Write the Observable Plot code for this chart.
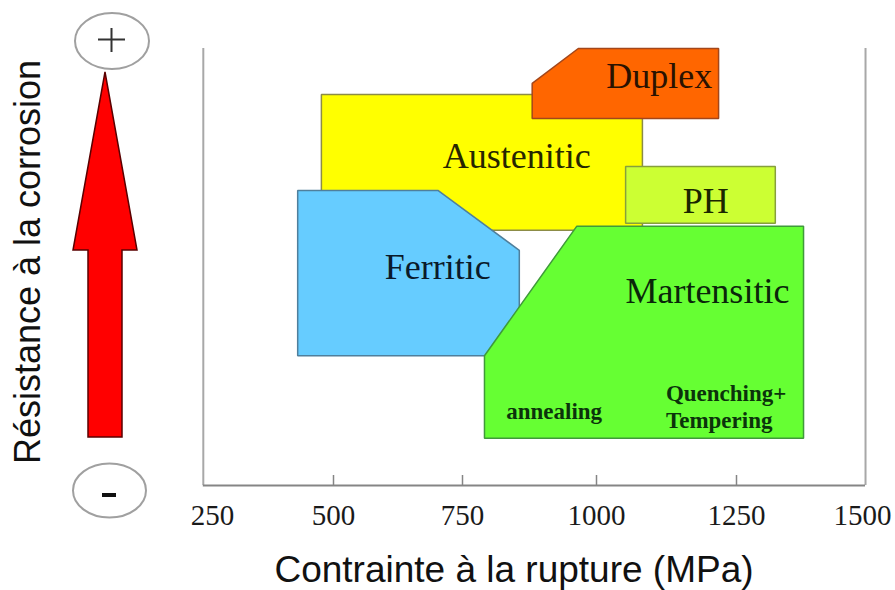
<!DOCTYPE html>
<html>
<head>
<meta charset="utf-8">
<script src="https://cdn.jsdelivr.net/npm/d3@7"></script>
<script src="https://cdn.jsdelivr.net/npm/@observablehq/plot@0.6"></script>
<style>
  html, body { margin: 0; padding: 0; background: #fff; }
  #chart { width: 895px; height: 590px; }
</style>
</head>
<body>
<div id="chart"></div>
<script>
// ---- data (x: tensile strength in MPa, y: relative corrosion resistance 0–100) ----
const xTicks = [250, 500, 750, 1000, 1250, 1500];
const innerTicks = [500, 750, 1000, 1250];
const xDomain = [231, 1506];
const yDomain = [0, 100];

const familyNames = ["Austenitic", "Duplex", "Ferritic", "PH", "Martensitic"];
const familyFill = ["#FFFF00", "#FF6600", "#66CCFF", "#CCFF33", "#66FF33"];
const familyStroke = ["#8c8c46", "#a3461a", "#4f7f9c", "#86a03c", "#3f9a3a"];

const austeniticX = [475, 1082, 1082, 475];
const austeniticY = [89.5, 89.5, 58.4, 58.4];
const duplexX = [966, 1218, 1218, 880, 880];
const duplexY = [100, 100, 84, 84, 92];
const ferriticX = [426, 703, 856, 856, 426];
const ferriticY = [67.5, 67.5, 53.8, 29.7, 29.7];
const phX = [1052, 1327, 1327, 1052];
const phY = [73, 73, 60, 60];
const martensiticX = [963, 1383, 1383, 791, 791];
const martensiticY = [59.3, 59.3, 10.8, 10.8, 29.7];

const labelNames = ["Duplex", "Austenitic", "PH", "Ferritic", "Martensitic"];
const labelX = [1112, 851, 1195, 702, 1198];
const labelY = [93.5, 75.4, 65.1, 50.0, 44.5];
const labelColor = ["#2a1200", "#262600", "#1a2600", "#0a1a2a", "#0a260a"];

const noteCenterText = ["annealing"];
const noteCenterX = [921];
const noteCenterY = [16.9];
const noteStartText = ["Quenching+", "Tempering"];
const noteStartX = [1124, 1124];
const noteStartY = [21.1, 14.9];

const xTitle = "Contrainte à la rupture (MPa)";
const yTitle = "Résistance à la corrosion";

// ---- build tables ----
const shapeXs = [austeniticX, duplexX, ferriticX, phX, martensiticX];
const shapeYs = [austeniticY, duplexY, ferriticY, phY, martensiticY];
const vertices = [];
familyNames.forEach((name, i) => {
  shapeXs[i].forEach((x, j) => vertices.push({
    family: name, x, y: shapeYs[i][j], fill: familyFill[i], stroke: familyStroke[i]
  }));
});
const labels = labelNames.map((t, i) => ({t, x: labelX[i], y: labelY[i], c: labelColor[i]}));
const notesC = noteCenterText.map((t, i) => ({t, x: noteCenterX[i], y: noteCenterY[i]}));
const notesS = noteStartText.map((t, i) => ({t, x: noteStartX[i], y: noteStartY[i]}));

const W = 895, H = 590, mL = 203, mR = 30, mT = 48, mB = 105;
// the printed axis is hand-spaced: a piecewise-linear scale follows its tick positions
const xScaleDomain = [250, 500, 750, 1000, 1250, 1500];
const xScaleRange = [212, 333, 462, 596, 736, 862];

const serif = "Liberation Serif, Times New Roman, serif";

const svg = Plot.plot({
  width: W, height: H,
  marginLeft: mL, marginRight: mR, marginTop: mT, marginBottom: mB,
  x: {type: "linear", domain: xScaleDomain, range: xScaleRange},
  y: {domain: yDomain, axis: null},
  color: {type: "identity"},
  style: {background: "white", overflow: "visible"},
  marks: [
    // frame: left & right verticals, bottom baseline
    Plot.ruleX(xDomain, {x: d => d, stroke: "#a8a8a8", strokeWidth: 2}),
    Plot.ruleY([yDomain[0]], {y: d => d, x1: xDomain[0], x2: xDomain[1], stroke: "#858585", strokeWidth: 2}),
    // inward ticks
    Plot.tickX(innerTicks, {x: d => d, insetTop: H - mT - mB - 10, stroke: "#858585", strokeWidth: 1.5}),
    // family regions
    Plot.line(vertices, {
      x: "x", y: "y", z: "family", fill: "fill", stroke: "stroke",
      strokeWidth: 1.5, curve: "linear-closed", strokeLinejoin: "miter"
    }),
    // family labels
    Plot.text(labels, {x: "x", y: "y", text: "t", fill: "c", fontSize: 36, fontFamily: serif}),
    Plot.text(notesC, {x: "x", y: "y", text: "t", fill: "#0b330b", fontSize: 23, fontWeight: "bold", fontFamily: serif}),
    Plot.text(notesS, {x: "x", y: "y", text: "t", fill: "#0b330b", fontSize: 23, fontWeight: "bold", textAnchor: "start", fontFamily: serif}),
    // x tick labels
    Plot.axisX(xTicks, {
      tickSize: 0, tickPadding: 19, fontSize: 29, fill: "#1a1a1a",
      fontFamily: serif, tickFormat: d => String(d), label: null
    })
  ]
});

const g = d3.select(svg).append("g");
// axis titles
g.append("text")
  .attr("x", 514).attr("y", 582)
  .attr("text-anchor", "middle")
  .attr("font-family", "Liberation Sans, Arial, sans-serif")
  .attr("font-size", 37).attr("fill", "#111")
  .text(xTitle);
g.append("text")
  .attr("transform", "translate(40,262) rotate(-90)")
  .attr("text-anchor", "middle")
  .attr("font-family", "Liberation Sans, Arial, sans-serif")
  .attr("font-size", 36).attr("fill", "#111")
  .text(yTitle);

// big red arrow
const arrowPts = [[105,72],[137,250],[122,250],[122,437],[88,437],[88,250],[73,250]];
g.append("polygon")
  .attr("points", arrowPts.map(p => p.join(",")).join(" "))
  .attr("fill", "#FF0000").attr("stroke", "#5a0000").attr("stroke-width", 1.5)
  .attr("stroke-linejoin", "miter");

// + ellipse
g.append("ellipse").attr("cx", 112).attr("cy", 41).attr("rx", 37).attr("ry", 28)
  .attr("fill", "white").attr("stroke", "#a0a0a0").attr("stroke-width", 2);
g.append("path").attr("d", "M98,39.5H125M111.5,28V52")
  .attr("stroke", "#333").attr("stroke-width", 2).attr("fill", "none");
// - ellipse
g.append("ellipse").attr("cx", 109.5).attr("cy", 490.5).attr("rx", 36.5).attr("ry", 27)
  .attr("fill", "white").attr("stroke", "#a0a0a0").attr("stroke-width", 2);
g.append("path").attr("d", "M102,495H116")
  .attr("stroke", "#111").attr("stroke-width", 4).attr("fill", "none");

document.getElementById("chart").appendChild(svg);
</script>
</body>
</html>
